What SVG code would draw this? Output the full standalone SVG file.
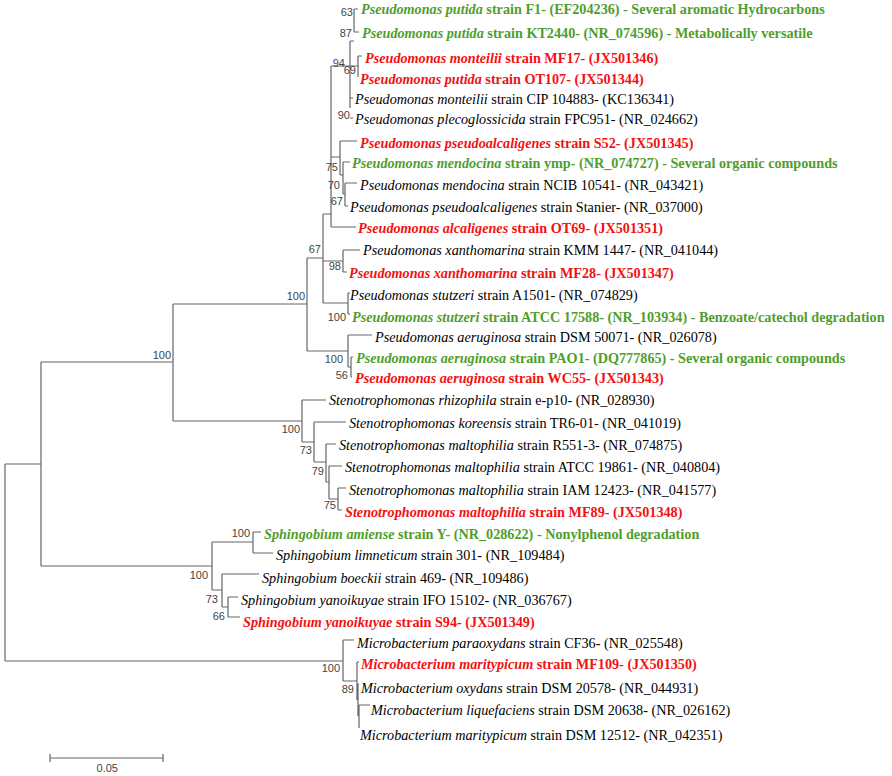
<svg xmlns="http://www.w3.org/2000/svg" width="892" height="776" viewBox="0 0 892 776">
<style>
.t{font-family:"Liberation Serif","Times New Roman",serif;font-size:14.2px;fill:#000}
.g{fill:#4f9e2c;font-weight:bold}
.r{fill:#f21111;font-weight:bold}
.i{font-style:italic}
.bs{font-family:"Liberation Sans",Arial,sans-serif;font-size:11px;fill:#444;text-anchor:end}
.ln{fill:none;stroke:#666;stroke-width:1.2}
</style>
<rect width="892" height="776" fill="#fff"/>
<g id="connectors">
<path class="ln" d="M5,464V661 M5,464H41 M41,362V566 M41,362H173 M173,304V421 M173,304H307 M307,258V351 M307,258H323 M323,214V303 M323,303H348 M348,293V314 M348,293H350 M348,314H350 M307,351H348 M348,335V367 M348,335H372 M348,367H351 M351,357V377 M351,357H353 M351,377H352
M323,214H331 M331,66V227 M331,227H356 M331,66H350 M350,41V108 M350,41H354 M354,9V32 M354,9H358 M354,32H359 M350,66H358 M358,56V77 M358,56H362 M358,77H358 M350,98H353 M350,118H353
M331,157H340 M340,141V175 M340,141H357 M340,175H343 M343,162V194 M343,162H350 M343,194H345 M345,183V206 M345,183H357 M345,206H348
M323,261H343 M343,250V272 M343,250H360 M343,272H347
M173,421H302 M302,400V442 M302,400H326 M302,442H314 M314,422V462 M314,422H346 M314,462H326 M326,444V482 M326,444H336 M326,482H329 M329,466V499 M329,466H342 M329,499H338 M338,488V510 M338,488H346 M338,510H342
M41,566H212 M212,542V590 M212,542H253 M253,532V553 M253,532H261 M253,553H273 M212,590H222 M222,574V607 M222,574H259 M222,607H228 M228,597V617 M228,597H238 M228,617H240
M5,661H343 M343,640V681 M343,640H354 M343,681H357 M357,662V700 M357,662H359 M357,700H358 M358,684V716 M358,684H359 M358,716H359 M359,705V728 M359,705H370 M359,728H359"/>
</g>
<g id="bootstrap">
<text class="bs" x="353" y="16">63</text>
<text class="bs" x="352" y="37">87</text>
<text class="bs" x="345" y="67">94</text>
<text class="bs" x="356" y="74">69</text>
<text class="bs" x="350" y="119">90</text>
<text class="bs" x="338" y="171">75</text>
<text class="bs" x="340" y="189">70</text>
<text class="bs" x="343" y="205">67</text>
<text class="bs" x="321" y="253">67</text>
<text class="bs" x="341" y="270">98</text>
<text class="bs" x="305" y="300">100</text>
<text class="bs" x="346" y="321">100</text>
<text class="bs" x="343" y="363">100</text>
<text class="bs" x="348" y="379">56</text>
<text class="bs" x="171" y="359">100</text>
<text class="bs" x="300" y="433">100</text>
<text class="bs" x="312" y="454">73</text>
<text class="bs" x="324" y="475">79</text>
<text class="bs" x="336" y="509">75</text>
<text class="bs" x="250" y="537">100</text>
<text class="bs" x="208" y="579">100</text>
<text class="bs" x="218" y="603">73</text>
<text class="bs" x="225" y="620">66</text>
<text class="bs" x="340" y="672">100</text>
<text class="bs" x="354" y="693">89</text>
</g>
<g id="n1"><text class="t g" x="361" y="14"><tspan class="i">Pseudomonas putida</tspan> strain F1- (EF204236) - Several aromatic Hydrocarbons</text></g>
<g id="n2"><text class="t g" x="362" y="38"><tspan class="i">Pseudomonas putida</tspan> strain KT2440- (NR_074596) - Metabolically versatile</text></g>
<g id="n3"><text class="t r" x="365" y="63"><tspan class="i">Pseudomonas monteilii</tspan> strain MF17- (JX501346)</text></g>
<g id="n4"><text class="t r" x="360" y="84"><tspan class="i">Pseudomonas putida</tspan> strain OT107- (JX501344)</text></g>
<g id="n5"><text class="t" x="355" y="104"><tspan class="i">Pseudomonas monteilii</tspan> strain CIP 104883- (KC136341)</text></g>
<g id="n6"><text class="t" x="355" y="124"><tspan class="i">Pseudomonas plecoglossicida</tspan> strain FPC951- (NR_024662)</text></g>
<g id="n7"><text class="t r" x="360" y="148"><tspan class="i">Pseudomonas pseudoalcaligenes</tspan> strain S52- (JX501345)</text></g>
<g id="n8"><text class="t g" x="352" y="168"><tspan class="i">Pseudomonas mendocina</tspan> strain ymp- (NR_074727) - Several organic compounds</text></g>
<g id="n9"><text class="t" x="360" y="190"><tspan class="i">Pseudomonas mendocina</tspan> strain NCIB 10541- (NR_043421)</text></g>
<g id="n10"><text class="t" x="350" y="212"><tspan class="i">Pseudomonas pseudoalcaligenes</tspan> strain Stanier- (NR_037000)</text></g>
<g id="n11"><text class="t r" x="358" y="233"><tspan class="i">Pseudomonas alcaligenes</tspan> strain OT69- (JX501351)</text></g>
<g id="n12"><text class="t" x="363" y="255"><tspan class="i">Pseudomonas xanthomarina</tspan> strain KMM 1447- (NR_041044)</text></g>
<g id="n13"><text class="t r" x="349" y="278"><tspan class="i">Pseudomonas xanthomarina</tspan> strain MF28- (JX501347)</text></g>
<g id="n14"><text class="t" x="350" y="300"><tspan class="i">Pseudomonas stutzeri</tspan> strain A1501- (NR_074829)</text></g>
<g id="n15"><text class="t g" x="352" y="322"><tspan class="i">Pseudomonas stutzeri</tspan> strain ATCC 17588- (NR_103934) - Benzoate/catechol degradation</text></g>
<g id="n16"><text class="t" x="375" y="342"><tspan class="i">Pseudomonas aeruginosa</tspan> strain DSM 50071- (NR_026078)</text></g>
<g id="n17"><text class="t g" x="356" y="363"><tspan class="i">Pseudomonas aeruginosa</tspan> strain PAO1- (DQ777865) - Several organic compounds</text></g>
<g id="n18"><text class="t r" x="355" y="383"><tspan class="i">Pseudomonas aeruginosa</tspan> strain WC55- (JX501343)</text></g>
<g id="n19"><text class="t" x="329" y="405"><tspan class="i">Stenotrophomonas rhizophila</tspan> strain e-p10- (NR_028930)</text></g>
<g id="n20"><text class="t" x="349" y="428"><tspan class="i">Stenotrophomonas koreensis</tspan> strain TR6-01- (NR_041019)</text></g>
<g id="n21"><text class="t" x="339" y="450"><tspan class="i">Stenotrophomonas maltophilia</tspan> strain R551-3- (NR_074875)</text></g>
<g id="n22"><text class="t" x="345" y="472"><tspan class="i">Stenotrophomonas maltophilia</tspan> strain ATCC 19861- (NR_040804)</text></g>
<g id="n23"><text class="t" x="349" y="495"><tspan class="i">Stenotrophomonas maltophilia</tspan> strain IAM 12423- (NR_041577)</text></g>
<g id="n24"><text class="t r" x="345" y="517"><tspan class="i">Stenotrophomonas maltophilia</tspan> strain MF89- (JX501348)</text></g>
<g id="n25"><text class="t g" x="264" y="539"><tspan class="i">Sphingobium amiense</tspan> strain Y- (NR_028622) - Nonylphenol degradation</text></g>
<g id="n26"><text class="t" x="276" y="560"><tspan class="i">Sphingobium limneticum</tspan> strain 301- (NR_109484)</text></g>
<g id="n27"><text class="t" x="262" y="583"><tspan class="i">Sphingobium boeckii</tspan> strain 469- (NR_109486)</text></g>
<g id="n28"><text class="t" x="241" y="605"><tspan class="i">Sphingobium yanoikuyae</tspan> strain IFO 15102- (NR_036767)</text></g>
<g id="n29"><text class="t r" x="243" y="627"><tspan class="i">Sphingobium yanoikuyae</tspan> strain S94- (JX501349)</text></g>
<g id="n30"><text class="t" x="357" y="648"><tspan class="i">Microbacterium paraoxydans</tspan> strain CF36- (NR_025548)</text></g>
<g id="n31"><text class="t r" x="361" y="669"><tspan class="i">Microbacterium maritypicum</tspan> strain MF109- (JX501350)</text></g>
<g id="n32"><text class="t" x="361" y="693"><tspan class="i">Microbacterium oxydans</tspan> strain DSM 20578- (NR_044931)</text></g>
<g id="n33"><text class="t" x="371" y="715"><tspan class="i">Microbacterium liquefaciens</tspan> strain DSM 20638- (NR_026162)</text></g>
<g id="n34"><text class="t" x="360" y="740"><tspan class="i">Microbacterium maritypicum</tspan> strain DSM 12512- (NR_042351)</text></g>
<g id="scale">
<path class="ln" d="M50,758H163 M50,754V762 M163,754V762"/>
<text class="bs" x="118" y="772">0.05</text>
</g>
</svg>
